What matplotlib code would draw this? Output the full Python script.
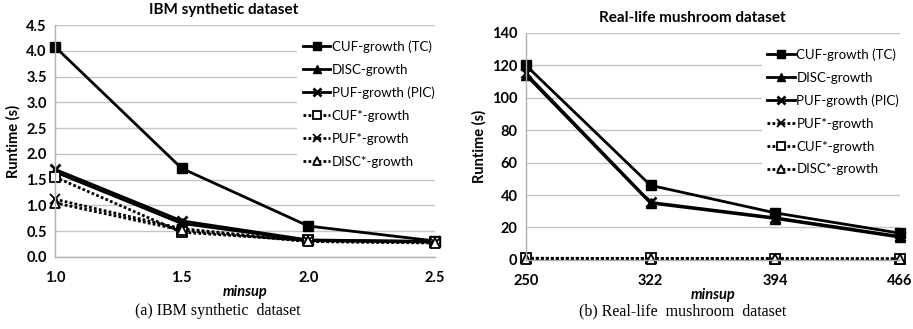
import matplotlib
matplotlib.use("Agg")
import matplotlib.pyplot as plt

plt.rcParams['font.family'] = ['Lato', 'DejaVu Sans']

# IBM synthetic dataset
ibm_minsup = ['1.0', '1.5', '2.0', '2.5']
ibm_cuf = [4.08, 1.72, 0.60, 0.31]
ibm_disc = [1.65, 0.65, 0.32, 0.30]
ibm_puf = [1.70, 0.70, 0.33, 0.30]
ibm_cuf_star = [1.55, 0.48, 0.32, 0.29]
ibm_puf_star = [1.12, 0.55, 0.30, 0.28]
ibm_disc_star = [1.05, 0.52, 0.30, 0.27]

# Real-life mushroom dataset
mush_minsup = ['250', '322', '394', '466']
mush_cuf = [120, 46, 29, 16.5]
mush_disc = [114, 35, 25.5, 14]
mush_puf = [115, 35.5, 26, 14.5]
mush_puf_star = [1.0, 0.9, 0.8, 0.6]
mush_cuf_star = [1.0, 0.9, 0.8, 0.6]
mush_disc_star = [0.8, 0.7, 0.6, 0.5]

solid = dict(color='black', lw=2.0, ls='-')
dotted = dict(color='black', lw=2.0, ls=(0, (1, 0.8)))

styles = {
    'CUF-growth (TC)': dict(solid, marker='s', ms=7, mfc='black', mec='black'),
    'DISC-growth': dict(solid, marker='^', ms=7, mfc='black', mec='black'),
    'PUF-growth (PIC)': dict(solid, marker='x', ms=7, mew=2),
    'CUF*-growth': dict(dotted, marker='s', ms=7, mfc='white', mec='black', mew=1.3),
    'PUF*-growth': dict(dotted, marker='x', ms=7, mew=1.3),
    'DISC*-growth': dict(dotted, marker='^', ms=7, mfc='white', mec='black', mew=1.3),
}

FS = 10.5


def draw_panel(ax, cats, series, ymax, ystep, yfmt, title, caption, cap_x):
    x = list(range(len(cats)))
    for name, vals in series:
        ax.plot(x, vals, label=name, clip_on=False, **styles[name])
    ax.set_xlim(0, len(cats) - 1)
    ax.set_ylim(0, ymax)
    ticks = [i * ystep for i in range(int(round(ymax / ystep)) + 1)]
    ax.set_yticks(ticks)
    ax.set_yticklabels([yfmt.format(t) for t in ticks])
    ax.set_xticks(x)
    ax.set_xticklabels(cats)
    ax.tick_params(length=0, labelsize=FS, pad=6)
    for lab in ax.get_xticklabels() + ax.get_yticklabels():
        lab.set_fontweight('bold')
    ax.tick_params(axis='x', pad=10)
    ax.grid(axis='y', color='#c4c4c4', lw=1.0)
    ax.set_axisbelow(True)
    for s in ['top', 'right']:
        ax.spines[s].set_visible(False)
    for s in ['left', 'bottom']:
        ax.spines[s].set_color('#b0b0b0')
        ax.spines[s].set_linewidth(1.0)
    ax.set_ylabel('Runtime (s)', fontsize=FS, fontweight='bold', labelpad=4)
    ax.set_title(title, fontsize=11, fontweight='bold', pad=8, x=0.445)
    ax.set_xlabel('minsup', fontsize=FS, fontweight='bold', style='italic', labelpad=0)
    ax.legend(loc='upper right', bbox_to_anchor=(1.03, 0.985), frameon=True,
              fancybox=False, edgecolor='none', facecolor='white', framealpha=1,
              fontsize=9.5, handlelength=2.1, handletextpad=0.1,
              labelspacing=0.82, markerscale=0.75, borderpad=0.4)
    ax.figure.text(cap_x, 0.03, caption, ha='center', va='bottom',
                   fontsize=11.5, family='Liberation Serif')


fig = plt.figure(figsize=(9.13, 3.29), dpi=100)
ax1 = fig.add_axes([0.0602, 0.219, 0.4162, 0.705])
ax2 = fig.add_axes([0.576, 0.21, 0.4096, 0.69])

draw_panel(ax1, ibm_minsup,
           [('CUF-growth (TC)', ibm_cuf), ('DISC-growth', ibm_disc),
            ('PUF-growth (PIC)', ibm_puf), ('CUF*-growth', ibm_cuf_star),
            ('PUF*-growth', ibm_puf_star), ('DISC*-growth', ibm_disc_star)],
           4.5, 0.5, '{:.1f}', 'IBM synthetic dataset',
           '(a) IBM synthetic  dataset', 0.238)
draw_panel(ax2, mush_minsup,
           [('CUF-growth (TC)', mush_cuf), ('DISC-growth', mush_disc),
            ('PUF-growth (PIC)', mush_puf), ('PUF*-growth', mush_puf_star),
            ('CUF*-growth', mush_cuf_star), ('DISC*-growth', mush_disc_star)],
           140, 20, '{:.0f}', 'Real-life mushroom dataset',
           '(b) Real-life  mushroom  dataset', 0.748)

fig.savefig('out.png', dpi=100)
